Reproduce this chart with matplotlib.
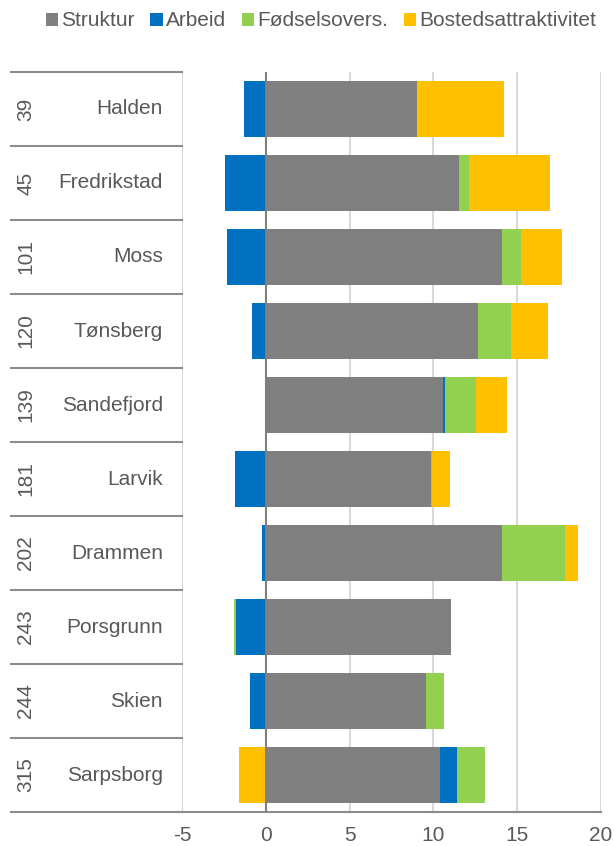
import matplotlib

matplotlib.use("Agg")
import matplotlib.pyplot as plt
import numpy as np
from matplotlib.patches import Patch
from matplotlib.transforms import blended_transform_factory

plt.rcParams["font.family"] = ["Liberation Sans", "DejaVu Sans"]
plt.rcParams["axes.unicode_minus"] = False

ranks = ["39", "45", "101", "120", "139", "181", "202", "243", "244", "315"]
names = ["Halden", "Fredrikstad", "Moss", "Tønsberg", "Sandefjord",
         "Larvik", "Drammen", "Porsgrunn", "Skien", "Sarpsborg"]

struktur = [9.0, 11.5, 14.1, 12.65, 10.6, 9.85, 14.1, 11.05, 9.55, 10.37]
arbeid = [-1.3, -2.45, -2.3, -0.84, 0.12, -1.85, -0.22, -1.8, -0.95, 1.03]
fodsel = [0.0, 0.65, 1.1, 2.0, 1.8, 0.08, 3.75, -0.08, 1.1, 1.7]
bosted = [5.2, 4.8, 2.5, 2.2, 1.9, 1.05, 0.75, 0.02, 0.0, -1.6]

series = [("Struktur", struktur, "#808080"),
          ("Arbeid", arbeid, "#0070C0"),
          ("Fødselsovers.", fodsel, "#92D050"),
          ("Bostedsattraktivitet", bosted, "#FFC000")]

text_color = "#595959"
line_color = "#8c8c8c"
grid_color = "#d9d9d9"

W, H = 614, 846
fig = plt.figure(figsize=(W / 100, H / 100), dpi=100)
ax = fig.add_axes([182 / W, 1 - 812 / H, (601 - 182) / W, (812 - 72) / H])

y = np.arange(len(names))
pos_left = np.zeros(len(names))
neg_left = np.zeros(len(names))
for label, vals, color in series:
    vals = np.array(vals)
    left = np.where(vals >= 0, pos_left, neg_left)
    ax.barh(y, vals, left=left, height=0.77, color=color, zorder=2)
    pos_left += np.where(vals >= 0, vals, 0)
    neg_left += np.where(vals < 0, vals, 0)

ax.set_xlim(-5, 20)
ax.set_ylim(len(names) - 0.5, -0.5)
ax.set_xticks([-5, 0, 5, 10, 15, 20])
ax.set_yticks([])
ax.tick_params(axis="x", length=0, labelsize=15, labelcolor=text_color, pad=10)
for x in [-5, 5, 10, 15, 20]:
    ax.axvline(x, color=grid_color, lw=1.5, zorder=1)
ax.axvline(0, color="#7f7f7f", lw=1.5, zorder=3)
for side in ["top", "right", "left"]:
    ax.spines[side].set_visible(False)
ax.spines["bottom"].set_color(line_color)
ax.spines["bottom"].set_linewidth(1.5)

# left-hand category table
trans = blended_transform_factory(fig.transFigure, ax.transData)
for b in np.arange(len(names) + 1) - 0.5:
    ax.plot([11 / W, 182 / W], [b, b], transform=trans, color=line_color,
            lw=1.5, clip_on=False, zorder=4)
for i, (r, n) in enumerate(zip(ranks, names)):
    ax.text(26 / W, i, r, transform=trans, rotation=90, ha="center", va="center",
            fontsize=15, color=text_color)
    ax.text(163 / W, i, n, transform=trans, ha="right", va="center",
            fontsize=15, color=text_color)

handles = [Patch(facecolor=c, label=l) for l, _, c in series]
fig.legend(handles=handles, loc="center", bbox_to_anchor=(0.523, 1 - 21 / H),
           ncol=4, frameon=False, fontsize=15, labelcolor=text_color,
           handlelength=0.6, handleheight=0.6, handletextpad=0.15, columnspacing=0.75)

fig.savefig("out.png", dpi=100)
